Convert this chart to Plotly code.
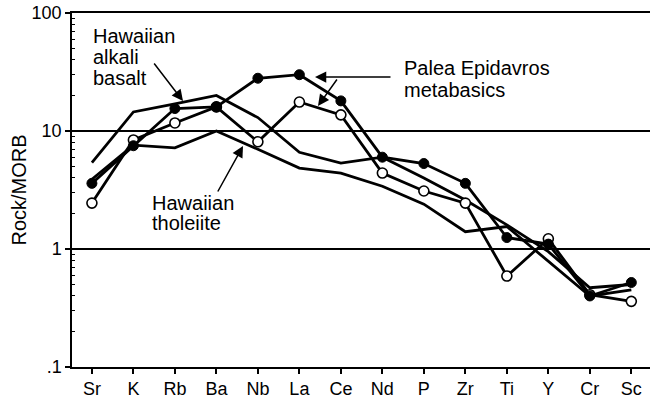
import plotly.graph_objects as go

elements = ["Sr", "K", "Rb", "Ba", "Nb", "La", "Ce", "Nd", "P", "Zr", "Ti", "Y", "Cr", "Sc"]
palea_filled = [3.6, 7.5, 15.5, 16, 28, 30, 18, 6.0, 5.3, 3.6, 1.25, 1.1, 0.40, 0.52]
palea_open = [2.45, 8.4, 11.7, 16, 8.1, 17.6, 13.7, 4.4, 3.1, 2.45, 0.59, 1.22, 0.41, 0.36]
alkali_basalt = [5.4, 14.5, 17, 20, 13, 6.6, 5.35, 6.0, 4.0, 2.6, 1.6, 0.95, 0.47, 0.50]
tholeiite = [3.9, 7.6, 7.2, 10, 7.0, 4.85, 4.4, 3.4, 2.4, 1.4, 1.55, 0.78, 0.40, 0.45]

y_tickvals = [0.1, 1, 10, 100]
y_ticktext = [".1", "1", "10", "100"]

FONT = "Liberation Sans, Arial, Helvetica, sans-serif"
W, H = 650, 400
ML, MR, MT, MB = 72, 0, 13, 33
PW, PH = W - ML - MR, H - MT - MB

def px(xp, yp):
    # page pixel -> paper coords
    return (xp - ML) / PW, (H - MB - yp) / PH

fig = go.Figure()
line_style = dict(color="black", width=2.8)
fig.add_trace(go.Scatter(x=elements, y=alkali_basalt, mode="lines", line=line_style))
fig.add_trace(go.Scatter(x=elements, y=tholeiite, mode="lines", line=line_style))
fig.add_trace(go.Scatter(x=elements, y=palea_open, mode="lines+markers", line=line_style,
                         marker=dict(symbol="circle", size=10, color="white",
                                     line=dict(color="black", width=1.6))))
fig.add_trace(go.Scatter(x=elements, y=palea_filled, mode="lines+markers", line=line_style,
                         marker=dict(symbol="circle", size=10, color="black",
                                     line=dict(color="black", width=1))))

minor_vals = [m * 10 ** e for e in (-1, 0, 1) for m in range(2, 10)]

fig.update_layout(
    width=W, height=H,
    margin=dict(l=ML, r=MR, t=MT, b=MB),
    paper_bgcolor="white", plot_bgcolor="white",
    showlegend=False,
    font=dict(family=FONT, color="black"),
    xaxis=dict(
        type="category", range=[-0.48, 13.45],
        showline=True, linecolor="black", linewidth=1.5, mirror=True,
        ticks="outside", ticklen=5, tickwidth=1.5, tickcolor="black",
        tickfont=dict(size=18, family=FONT, color="black"),
        showgrid=False, zeroline=False,
    ),
    yaxis=dict(
        type="log", range=[-1, 2],
        tickvals=y_tickvals, ticktext=y_ticktext,
        showline=True, linecolor="black", linewidth=1.5,
        ticks="outside", ticklen=5, tickwidth=1.5, tickcolor="black",
        tickfont=dict(size=18, family=FONT, color="black"),
        showgrid=True, gridcolor="black", gridwidth=1.5,
        zeroline=False,
        minor=dict(tickvals=minor_vals, ticks="inside", ticklen=3, tickwidth=1,
                   tickcolor="black", showgrid=False),
        title=dict(text="Rock/MORB", font=dict(size=20, family=FONT, color="black"),
                   standoff=0),
    ),
)

labels = [
    ("Hawaiian", 91, 36), ("alkali", 91, 57), ("basalt", 91, 78),
    ("Palea Epidavros", 402, 68), ("metabasics", 402, 90),
    ("Hawaiian", 150, 203), ("tholeiite", 150, 223),
]
for txt, xp, yp in labels:
    x, y = px(xp, yp)
    fig.add_annotation(text=txt, x=x, y=y, xref="paper", yref="paper",
                       xanchor="left", yanchor="middle", showarrow=False,
                       font=dict(size=20, family=FONT, color="black"))

arrows = [
    (183, 101, -30, -39),
    (315, 77, 77, 0),
    (318, 106, 20, -28),
    (243, 146, -26, 47),
]
for xt, yt, ax, ay in arrows:
    x, y = px(xt, yt)
    fig.add_annotation(text="", x=x, y=y, xref="paper", yref="paper",
                       ax=ax, ay=ay, showarrow=True, arrowhead=2,
                       arrowsize=1.5, arrowwidth=1.5, arrowcolor="black")

fig.write_html(
    "out.html",
    config={"displayModeBar": False},
    post_script="document.body.style.margin='0';document.body.style.overflow='hidden';",
)
